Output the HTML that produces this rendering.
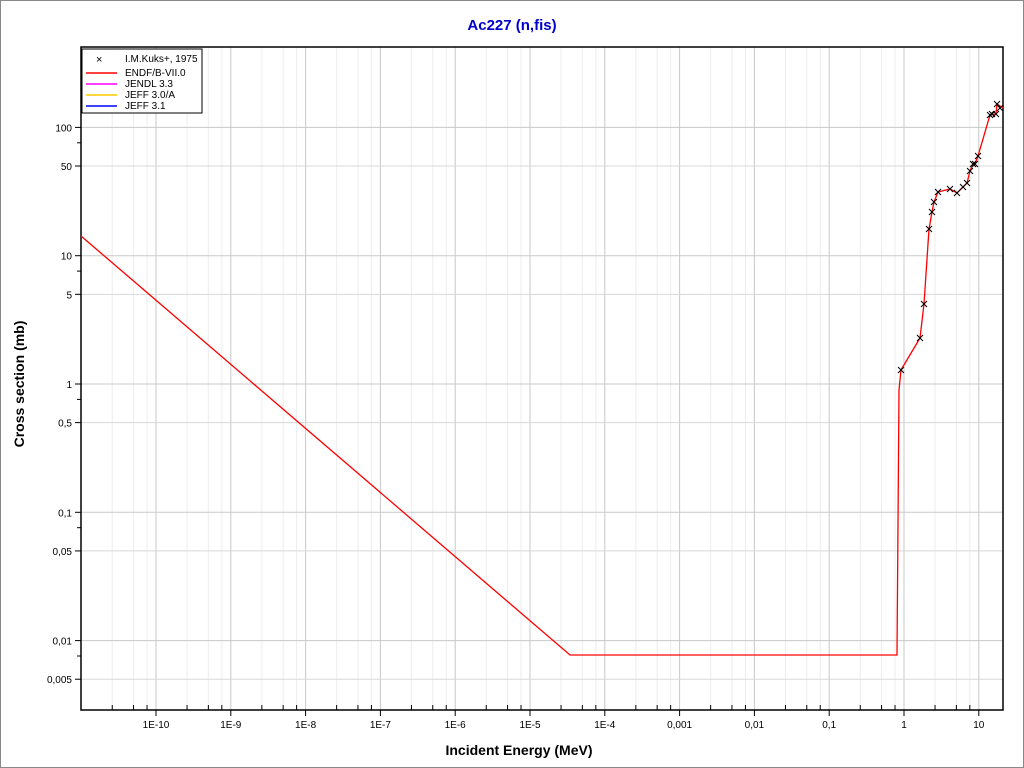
<!DOCTYPE html>
<html><head><meta charset="utf-8"><style>
body{margin:0;background:#fff;}
svg{display:block;font-family:"Liberation Sans",sans-serif;}
</style></head><body>
<svg width="1024" height="768" viewBox="0 0 1024 768">
<rect x="0.5" y="0.5" width="1023" height="767" fill="#fff" stroke="#888"/>
<text x="512" y="30" text-anchor="middle" font-size="15" font-weight="bold" fill="#0000cc">Ac227 (n,fis)</text>
<g id="grid"></g>
<g id="ticks"></g>
<rect x="81" y="47" width="922" height="663" fill="none" stroke="#000" stroke-width="1.5"/>
<text x="519" y="755" text-anchor="middle" font-size="14" font-weight="bold">Incident Energy (MeV)</text>
<text transform="translate(24,384) rotate(-90)" text-anchor="middle" font-size="14" font-weight="bold">Cross section (mb)</text>
<polyline fill="none" stroke="#ff0000" stroke-width="1.3" points="81,236 570,655 897,655 899,390 901,370 920,338 924,304 929,229 932,212 934,202 938,192 950,189 957,193 963,187 967,183 970,171 973,164 975,164 978,156 990,115 996,114 997,104 1003,108"/>
<g id="pts" stroke="#000" stroke-width="1"></g>
<rect x="82" y="49" width="120" height="64" fill="#fff" stroke="#000"/>
<g font-size="10">
<text x="96" y="63" font-size="11">×</text><text x="125" y="62">I.M.Kuks+, 1975</text>
<line x1="86" y1="73" x2="117" y2="73" stroke="#f00" stroke-width="1.5"/><text x="125" y="76">ENDF/B-VII.0</text>
<line x1="86" y1="84" x2="117" y2="84" stroke="#f0f" stroke-width="1.5"/><text x="125" y="87">JENDL 3.3</text>
<line x1="86" y1="95" x2="117" y2="95" stroke="#fc0" stroke-width="1.5"/><text x="125" y="98">JEFF 3.0/A</text>
<line x1="86" y1="106" x2="117" y2="106" stroke="#00f" stroke-width="1.5"/><text x="125" y="109">JEFF 3.1</text>
</g>
</svg>
<script>
(function(){
var ns="http://www.w3.org/2000/svg";
function el(p,t,a){var e=document.createElementNS(ns,t);for(var k in a)e.setAttribute(k,a[k]);p.appendChild(e);return e;}
var g=document.getElementById("grid"),tk=document.getElementById("ticks"),pts=document.getElementById("pts");
function X(l){return 904+74.8*l;}
function Y(l){return 384-128.3*l;}
var xl=["1E-10","1E-9","1E-8","1E-7","1E-6","1E-5","1E-4","0,001","0,01","0,1","1","10"];
for(var d=-11;d<=1;d++){
 [0.415,0.7,0.88].forEach(function(o){var x=X(d+o);if(x>82&&x<1003){el(g,"line",{x1:x,y1:47,x2:x,y2:710,stroke:"#ededed"});el(tk,"line",{x1:x,y1:710,x2:x,y2:705,stroke:"#000"});}});
 var x=X(d);
 if(x>82&&x<1003){el(g,"line",{x1:x,y1:47,x2:x,y2:710,stroke:"#c8c8c8"});el(tk,"line",{x1:x,y1:710,x2:x,y2:716,stroke:"#000"});
 var t=el(tk,"text",{x:x,y:728,"text-anchor":"middle","font-size":"10"});t.textContent=xl[d+10];}
}
var yl={2:"100",1:"10",0:"1","-1":"0,1","-2":"0,01"};
var y5={2:"",1:"50",0:"5","-1":"0,5","-2":"0,05","-3":"0,005"};
for(var d=-3;d<=2;d++){
 var y=Y(d);
 if(y>47&&y<710){el(g,"line",{x1:81,y1:y,x2:1003,y2:y,stroke:"#c8c8c8"});el(tk,"line",{x1:75,y1:y,x2:81,y2:y,stroke:"#000"});
 var t=el(tk,"text",{x:72,y:y+4,"text-anchor":"end","font-size":"10"});t.textContent=yl[d];}
 var y2=Y(d+0.699);
 if(y2>47&&y2<710){el(g,"line",{x1:81,y1:y2,x2:1003,y2:y2,stroke:"#d8d8d8"});el(tk,"line",{x1:75,y1:y2,x2:81,y2:y2,stroke:"#000"});
 var t=el(tk,"text",{x:72,y:y2+4,"text-anchor":"end","font-size":"10"});t.textContent=y5[d];}
 var y3=Y(d+0.88);
 if(y3>47&&y3<710){el(tk,"line",{x1:77,y1:y3,x2:81,y2:y3,stroke:"#000"});}
}
var P=[[901,370],[920,338],[924,304],[929,229],[932,212],[934,202],[938,192],[950,189],[957,193],[963,187],[967,183],[970,171],[973,164],[975,164],[978,156],[990,115],[992,114],[996,114],[997,104],[1000,108]];
P.forEach(function(p){el(pts,"path",{d:"M"+(p[0]-3)+" "+(p[1]-3)+"l6 6M"+(p[0]-3)+" "+(p[1]+3)+"l6 -6",fill:"none"});});
})();
</script>
</body></html>
